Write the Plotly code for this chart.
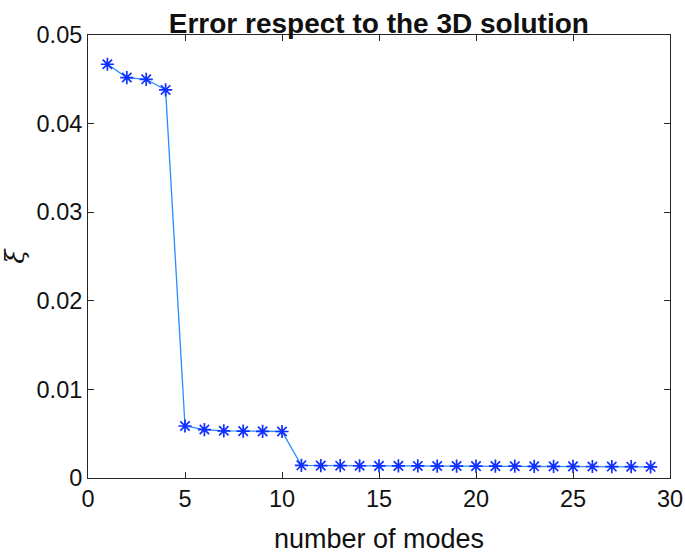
import plotly.graph_objects as go

modes = list(range(1, 30))
error_xi = [0.0467, 0.0452, 0.0450, 0.0438, 0.00587, 0.00547, 0.00533, 0.00529,
            0.00526, 0.00525, 0.00143, 0.00140, 0.00139, 0.00138, 0.00137,
            0.00137, 0.00136, 0.00135, 0.00135, 0.00134, 0.00134, 0.00133,
            0.00132, 0.00131, 0.00131, 0.00130, 0.00129, 0.00128, 0.00126]
x_ticks = [0, 5, 10, 15, 20, 25, 30]
y_ticks = [0, 0.01, 0.02, 0.03, 0.04, 0.05]
y_tick_text = ["0", "0.01", "0.02", "0.03", "0.04", "0.05"]

fig = go.Figure()
fig.add_trace(go.Scatter(
    x=modes, y=error_xi, mode="lines+markers",
    line=dict(color="#2a8cff", width=1.3),
    marker=dict(symbol="asterisk-open", size=11,
                line=dict(color="#1030ff", width=1.7), color="#1030ff"),
    showlegend=False,
))

font = "Liberation Sans, Arial, Helvetica, sans-serif"
axis_common = dict(
    showgrid=False, zeroline=False, showline=True, linecolor="#262626",
    linewidth=1, mirror="ticks", ticks="inside", ticklen=6, automargin=False,
    tickcolor="#262626", tickfont=dict(family=font, size=23.5, color="#111111"),
)
fig.update_xaxes(range=[0, 30], tickvals=x_ticks, **axis_common,
                 title=dict(text="number of modes",
                            font=dict(family=font, size=27, color="#111111"),
                            standoff=17))
fig.update_yaxes(range=[0, 0.05], tickvals=y_ticks, ticktext=y_tick_text,
                 **axis_common,
                 title=dict(text="<i>ξ</i>",
                            font=dict(family="DejaVu Serif, serif", size=26,
                                      color="#111111"),
                            standoff=10))
fig.update_layout(
    width=685, height=558,
    margin=dict(l=87.7, r=15, t=35, b=80.3),
    plot_bgcolor="white", paper_bgcolor="white",
    title=dict(text="<b>Error respect to the 3D solution</b>",
               x=(87.7 + 670) / 2 / 685, xanchor="center", y=1 - 23 / 558,
               yanchor="middle",
               font=dict(family=font, size=28, color="#111111")),
)
fig.write_html(
    "out.html",
    config={"displayModeBar": False},
    post_script="document.body.style.margin='0';"
                "document.body.style.overflow='hidden';",
)
